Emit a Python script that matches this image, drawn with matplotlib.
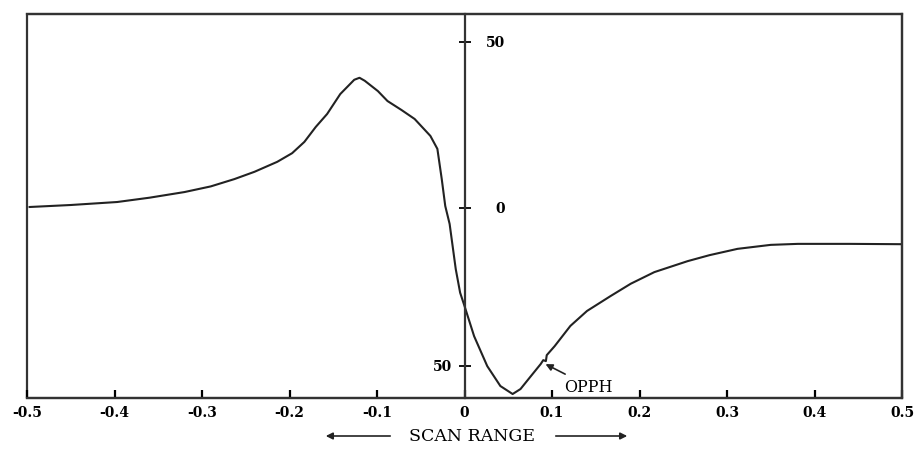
import matplotlib
matplotlib.use("Agg")
import matplotlib.pyplot as plt
from matplotlib.patches import Rectangle

# scan curve
scan_x = [-0.497, -0.450, -0.397, -0.360, -0.320, -0.290, -0.263, -0.240, -0.214,
          -0.197, -0.183, -0.170, -0.157, -0.142, -0.126, -0.120, -0.114, -0.099,
          -0.088, -0.072, -0.057, -0.039, -0.031, -0.026, -0.022, -0.017, -0.010,
          -0.005, 0.000, 0.011, 0.026, 0.041, 0.055, 0.064, 0.075, 0.087, 0.090,
          0.093, 0.094, 0.103, 0.121, 0.140, 0.167, 0.190, 0.217, 0.255, 0.280,
          0.312, 0.350, 0.381, 0.440, 0.500]
scan_y = [0.3, 0.9, 1.8, 3.1, 4.8, 6.5, 8.7, 10.9, 13.9,
          16.5, 19.9, 24.4, 28.3, 34.3, 38.6, 39.2, 38.3, 35.2,
          32.2, 29.5, 26.8, 21.7, 17.8, 8.7, 0.6, -4.8, -18.4,
          -25.5, -29.5, -38.6, -47.6, -53.6, -56.0, -54.5, -50.9, -47.0, -45.8,
          -46.1, -44.3, -41.6, -35.5, -31.0, -26.5, -22.8, -19.3, -16.0, -14.2,
          -12.3, -11.1, -10.8, -10.8, -10.9]

xticks = [-0.5, -0.4, -0.3, -0.2, -0.1, 0, 0.1, 0.2, 0.3, 0.4, 0.5]
xtick_labels = ["-0.5", "-0.4", "-0.3", "-0.2", "-0.1", "0", "0.1", "0.2", "0.3", "0.4", "0.5"]
yticks = [50, 0, -47.5]
ytick_labels = ["50", "0", "50"]
ylabel_side = ["right", "right", "left"]

serif = "DejaVu Serif"
ink = "#222222"

fig = plt.figure(figsize=(9.19, 4.52), dpi=100)
ax = fig.add_axes([27 / 919, 53 / 452, 875 / 919, 384 / 452])

ax.plot(scan_x, scan_y, color=ink, lw=1.5, solid_joinstyle="round")
ax.set_xlim(-0.5, 0.5)
ax.set_ylim(-57.2, 58.4)

# the y axis runs through x = 0, the box is drawn separately
ax.spines["left"].set_position(("data", 0))
for s in ax.spines.values():
    s.set_linewidth(1.6)
    s.set_color("#333333")
ax.add_patch(Rectangle((0, 0), 1, 1, transform=ax.transAxes, fill=False,
                       lw=1.6, edgecolor="#333333", clip_on=False))

ax.set_xticks(xticks)
ax.set_xticklabels(xtick_labels, fontfamily=serif, fontweight="bold", fontsize=10)
ax.tick_params(axis="x", direction="in", length=6, width=1.6, pad=5)
ax.set_yticks(yticks)
ax.set_yticklabels([])
ax.tick_params(axis="y", direction="inout", length=8, width=1.3)

# y labels: right aligned, two on the right of the axis, the low one on the left
for y, lab, side in zip(yticks, ytick_labels, ylabel_side):
    dx = 29 if side == "right" else -9
    ax.annotate(lab, xy=(0, y), xytext=(dx, 0), textcoords="offset points",
                ha="right", va="center",
                fontfamily=serif, fontweight="bold", fontsize=10)

ax.annotate("OPPH", xy=(0.0926, -47.0), xytext=(0.114, -53.6),
            ha="left", va="center", fontfamily=serif, fontsize=11.5,
            arrowprops=dict(arrowstyle="-|>", color=ink, lw=1.2,
                            shrinkA=1, shrinkB=0, mutation_scale=10))

# scan range caption with arrows
cap_y = 1 - 437 / 452
fig.text(472 / 919, cap_y, "SCAN RANGE", ha="center", va="center",
         fontfamily=serif, fontsize=12.5)
ax.annotate("", xy=(323 / 919, cap_y), xytext=(393 / 919, cap_y),
            xycoords="figure fraction", textcoords="figure fraction",
            arrowprops=dict(arrowstyle="-|>", color=ink, lw=1.2, mutation_scale=10))
ax.annotate("", xy=(630 / 919, cap_y), xytext=(553 / 919, cap_y),
            xycoords="figure fraction", textcoords="figure fraction",
            arrowprops=dict(arrowstyle="-|>", color=ink, lw=1.2, mutation_scale=10))

fig.savefig("out.png", dpi=100)
